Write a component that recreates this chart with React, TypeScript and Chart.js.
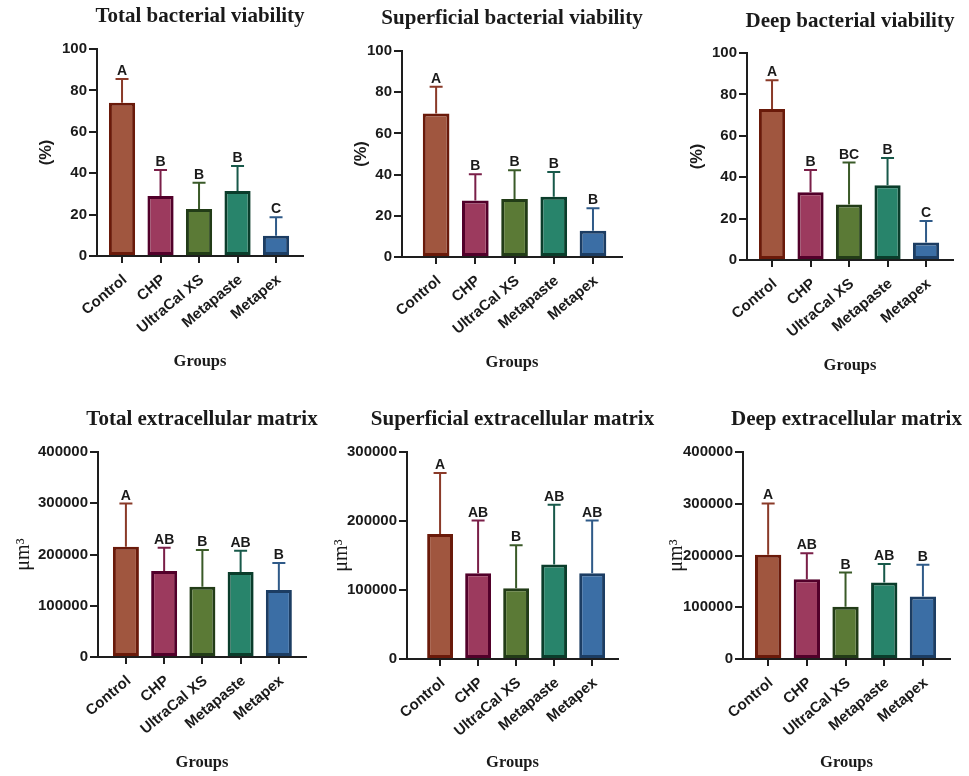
import React, { useEffect, useRef } from "react";
import { Chart, registerables } from "chart.js";
Chart.register(...registerables);

// ---------- data ----------
const groups = ["Control", "CHP", "UltraCal XS", "Metapaste", "Metapex"];

const totalViabMean = [74, 29, 22.7, 31.4, 9.8];
const totalViabSD = [11.5, 12.5, 12.7, 12.1, 8.9];
const totalViabLetters = ["A", "B", "B", "B", "C"];

const superViabMean = [69.7, 27.4, 28.2, 29.2, 12.8];
const superViabSD = [12.9, 12.8, 13.9, 12.1, 10.9];
const superViabLetters = ["A", "B", "B", "B", "B"];

const deepViabMean = [73, 32.7, 26.8, 36.1, 8.4];
const deepViabSD = [13.8, 10.8, 20.3, 13.2, 10.5];
const deepViabLetters = ["A", "B", "BC", "B", "C"];

const totalEcmMean = [215000, 168000, 137000, 166000, 130500];
const totalEcmSD = [84500, 45000, 72000, 41500, 53000];
const totalEcmLetters = ["A", "AB", "B", "AB", "B"];

const superEcmMean = [181000, 124400, 102600, 136900, 124400];
const superEcmSD = [88500, 76300, 62400, 86600, 76300];
const superEcmLetters = ["A", "AB", "B", "AB", "AB"];

const deepEcmMean = [201300, 154200, 101200, 147700, 120600];
const deepEcmSD = [99200, 50300, 65800, 36100, 61300];
const deepEcmLetters = ["A", "AB", "B", "AB", "B"];

const pctTicks = [0, 20, 40, 60, 80, 100];
const ecm4Ticks = [0, 100000, 200000, 300000, 400000];
const ecm3Ticks = [0, 100000, 200000, 300000];

const titles = [
  "Total bacterial viability",
  "Superficial bacterial viability",
  "Deep bacterial viability",
  "Total extracellular matrix",
  "Superficial extracellular matrix",
  "Deep extracellular matrix",
];

// ---------- styles ----------
const fills = ["#a0563f", "#9c3a5e", "#5b7a36", "#28846b", "#3b6ea5"];
const borders = ["#6a1a0a", "#52002a", "#223c17", "#0a3d2b", "#1c3d63"];
const errColors = ["#8a3a28", "#7a1f48", "#3a5a28", "#18594a", "#2f5a88"];
const AXIS = "#1e1e1e";
const SANS = "'Liberation Sans', Arial, sans-serif";
const SERIF = "'Liberation Serif', 'Times New Roman', serif";

type Panel = {
  title: string;
  mean: number[];
  sd: number[];
  letters: string[];
  ticks: number[];
  yLabel: string;
  yLabelFont: any;
  canvas: [number, number, number, number]; // x, y, w, h
  area: [number, number, number, number]; // L, T, R, B (page coords)
  xMin: number;
  xMax: number;
  titleBase: number;
  yTitlePad: number;
  groupsPad: number;
};

const pctFont = { family: SANS, size: 16.5, weight: "bold" };
const umFont = { family: SERIF, size: 20, weight: "normal" };

const panels: Panel[] = [
  {
    title: titles[0], mean: totalViabMean, sd: totalViabSD, letters: totalViabLetters,
    ticks: pctTicks, yLabel: "(%)", yLabelFont: pctFont,
    canvas: [0, 0, 328, 388], area: [97, 49, 303, 256], xMin: -0.65, xMax: 4.7,
    titleBase: 22, yTitlePad: 37, groupsPad: 16,
  },
  {
    title: titles[1], mean: superViabMean, sd: superViabSD, letters: superViabLetters,
    ticks: pctTicks, yLabel: "(%)", yLabelFont: pctFont,
    canvas: [328, 0, 332, 388], area: [402, 51, 622, 257], xMin: -0.87, xMax: 4.74,
    titleBase: 24, yTitlePad: 24, groupsPad: 15,
  },
  {
    title: titles[2], mean: deepViabMean, sd: deepViabSD, letters: deepViabLetters,
    ticks: pctTicks, yLabel: "(%)", yLabelFont: pctFont,
    canvas: [660, 0, 309, 388], area: [747, 53, 953, 260], xMin: -0.65, xMax: 4.7,
    titleBase: 27, yTitlePad: 28, groupsPad: 12,
  },
  {
    title: titles[3], mean: totalEcmMean, sd: totalEcmSD, letters: totalEcmLetters,
    ticks: ecm4Ticks, yLabel: "\u03bcm\u00b3", yLabelFont: umFont,
    canvas: [0, 388, 328, 388], area: [98, 452, 306, 657], xMin: -0.73, xMax: 4.71,
    titleBase: 37, yTitlePad: 12, groupsPad: 3,
  },
  {
    title: titles[4], mean: superEcmMean, sd: superEcmSD, letters: superEcmLetters,
    ticks: ecm3Ticks, yLabel: "\u03bcm\u00b3", yLabelFont: umFont,
    canvas: [328, 388, 332, 388], area: [407, 452, 618, 659], xMin: -0.87, xMax: 4.68,
    titleBase: 37, yTitlePad: 2, groupsPad: 3,
  },
  {
    title: titles[5], mean: deepEcmMean, sd: deepEcmSD, letters: deepEcmLetters,
    ticks: ecm4Ticks, yLabel: "\u03bcm\u00b3", yLabelFont: umFont,
    canvas: [660, 388, 309, 388], area: [743, 452, 950, 659], xMin: -0.65, xMax: 4.7,
    titleBase: 37, yTitlePad: 5, groupsPad: 3,
  },
];

const decorPlugin = {
  id: "decor",
  afterDatasetsDraw(chart: any, _args: any, opts: any) {
    const { ctx, chartArea } = chart;
    const p: Panel = opts.panel;
    const yScale = chart.scales.y;
    const meta = chart.getDatasetMeta(0);
    ctx.save();
    meta.data.forEach((el: any, i: number) => {
      const x = el.x;
      const yMean = yScale.getPixelForValue(p.mean[i]);
      const yTop = yScale.getPixelForValue(p.mean[i] + p.sd[i]);
      ctx.strokeStyle = errColors[i];
      ctx.lineWidth = 2;
      ctx.beginPath();
      ctx.moveTo(x, yMean);
      ctx.lineTo(x, yTop);
      ctx.moveTo(x - 6.5, yTop);
      ctx.lineTo(x + 6.5, yTop);
      ctx.stroke();
      ctx.fillStyle = "#1a1a1a";
      ctx.font = `bold 14px ${SANS}`;
      ctx.textAlign = "center";
      ctx.textBaseline = "alphabetic";
      ctx.fillText(p.letters[i], x, yTop - 4);
    });
    ctx.fillStyle = "#1a1a1a";
    ctx.font = `bold 21px ${SERIF}`;
    ctx.textAlign = "center";
    ctx.textBaseline = "alphabetic";
    ctx.fillText(p.title, (chartArea.left + chartArea.right) / 2, p.titleBase);
    ctx.restore();
  },
};

function PanelChart({ p }: { p: Panel }) {
  const ref = useRef<HTMLCanvasElement>(null);
  useEffect(() => {
    const [cx, cy, cw, ch] = p.canvas;
    const [L, T, R, B] = p.area;
    const yMax = p.ticks[p.ticks.length - 1];
    const chart = new Chart(ref.current!, {
      type: "bar",
      data: {
        datasets: [
          {
            data: groups.map((_, i) => ({ x: i, y: p.mean[i] })),
            backgroundColor: fills,
            borderColor: borders,
            borderWidth: 3,
            borderSkipped: false,
            categoryPercentage: 0.68,
            barPercentage: 1,
          } as any,
        ],
      },
      options: {
        animation: false,
        responsive: false,
        maintainAspectRatio: false,
        devicePixelRatio: 1,
        layout: { padding: { left: 0, top: T - cy, right: cx + cw - R, bottom: 0 } },
        plugins: {
          legend: { display: false },
          tooltip: { enabled: false },
          title: { display: false },
          decor: { panel: p },
        } as any,
        scales: {
          x: {
            type: "linear",
            min: p.xMin,
            max: p.xMax,
            offset: false,
            afterBuildTicks: (s: any) => {
              s.ticks = groups.map((_, i) => ({ value: i }));
            },
            afterFit: (s: any) => {
              s.height = cy + ch - B;
            },
            grid: { drawOnChartArea: false, drawTicks: true, tickLength: 7, color: AXIS, lineWidth: 2, offset: false },
            border: { display: true, color: AXIS, width: 2 },
            ticks: {
              autoSkip: false,
              minRotation: 40,
              maxRotation: 40,
              padding: 8,
              labelOffset: 3,
              color: "#1a1a1a",
              font: { family: SANS, size: 15, weight: "bold" },
              callback: (v: any) => groups[Math.round(Number(v))] ?? "",
            },
            title: {
              display: true,
              text: "Groups",
              color: "#1a1a1a",
              font: { family: SERIF, size: 16.5, weight: "bold" },
              padding: { top: 0, bottom: p.groupsPad },
            },
          },
          y: {
            type: "linear",
            min: 0,
            max: yMax,
            afterBuildTicks: (s: any) => {
              s.ticks = p.ticks.map((v) => ({ value: v }));
            },
            afterFit: (s: any) => {
              s.width = L - cx;
            },
            grid: { drawOnChartArea: false, drawTicks: true, tickLength: 8, color: AXIS, lineWidth: 2 },
            border: { display: true, color: AXIS, width: 2 },
            ticks: {
              padding: 2,
              color: "#1a1a1a",
              font: { family: SANS, size: 15, weight: "bold" },
              callback: (v: any) => String(v),
            },
            title: {
              display: true,
              text: p.yLabel,
              color: "#1a1a1a",
              font: p.yLabelFont,
              padding: { top: p.yTitlePad, bottom: 0 },
            },
          },
        },
      } as any,
      plugins: [decorPlugin],
    });
    return () => chart.destroy();
  }, [p]);
  const [cx, cy, cw, ch] = p.canvas;
  return (
    <canvas
      ref={ref}
      width={cw}
      height={ch}
      style={{ position: "absolute", left: cx, top: cy, width: cw, height: ch }}
    />
  );
}

export default function App() {
  return (
    <div style={{ position: "absolute", left: 0, top: 0, width: 969, height: 776, background: "#fff" }}>
      {panels.map((p, i) => (
        <PanelChart key={i} p={p} />
      ))}
    </div>
  );
}
